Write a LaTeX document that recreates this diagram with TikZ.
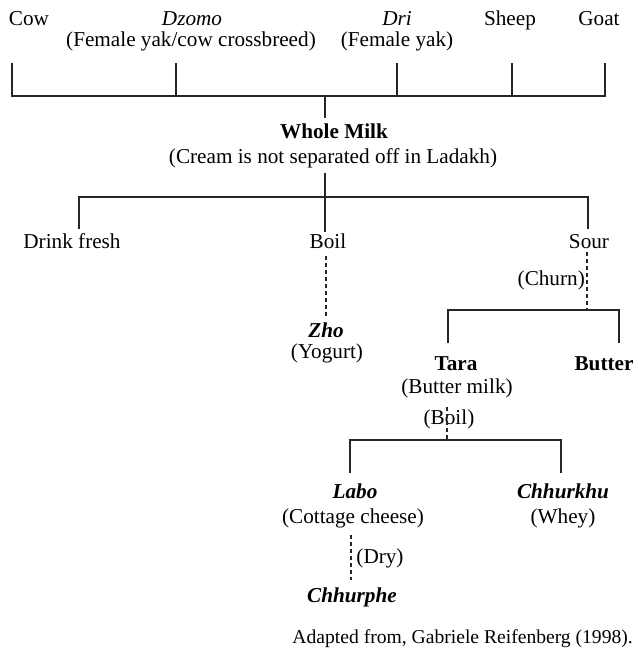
\documentclass[tikz,border=0pt]{standalone}
\usepackage{fontspec}
\setmainfont{Liberation Serif}
\begin{document}
\begin{tikzpicture}[x=1pt,y=-1pt,
  lbl/.style={inner sep=0pt, anchor=base, font=\fontsize{21.2}{25}\selectfont},
  src/.style={inner sep=0pt, anchor=base east, font=\fontsize{19.6}{23}\selectfont},
  solidline/.style={line width=1.1pt, black!85},
  dashline/.style={line width=1.1pt, black!85, dash pattern=on 4pt off 3pt}]
\useasboundingbox (0,0) rectangle (637,652);

% top row
\node[lbl] (cow) at (29,26) {Cow};
\node[lbl] (dzomo) at (192,26) {\textit{Dzomo}};
\node[lbl] (dzomod) at (191,46.5) {(Female yak/cow crossbreed)};
\node[lbl] (dri) at (397,26) {\textit{Dri}};
\node[lbl] (drid) at (397,46.5) {(Female yak)};
\node[lbl] (sheep) at (510,26) {Sheep};
\node[lbl] (goat) at (599,26) {Goat};

\coordinate (cowL) at (12,63);
\coordinate (dzL) at (176,63);
\coordinate (driL) at (397,63);
\coordinate (shL) at (512,63);
\coordinate (goL) at (605,63);
\coordinate (bar1) at (325,96);
\coordinate (wmT) at (325,118);

\draw[solidline] (cowL) |- (bar1) -| (goL);
\draw[solidline] (dzL) -- (dzL |- bar1);
\draw[solidline] (driL) -- (driL |- bar1);
\draw[solidline] (shL) -- (shL |- bar1);
\draw[solidline] (bar1) -- (wmT);

% whole milk
\node[lbl] (wm) at (334,139) {\textbf{Whole Milk}};
\node[lbl] (cream) at (333,164) {(Cream is not separated off in Ladakh)};

\coordinate (creamB) at (325,173);
\coordinate (bar2) at (325,197);
\coordinate (dfT) at (79,229);
\coordinate (soT) at (588,229);
\coordinate (boT) at (325,232);

\draw[solidline] (dfT) |- (bar2) -| (soT);
\draw[solidline] (creamB) -- (boT);

\node[lbl] (drink) at (72,248) {Drink fresh};
\node[lbl] (boil) at (328,248) {Boil};
\node[lbl] (sour) at (589,248) {Sour};

% yogurt branch
\coordinate (boB) at (326,256);
\coordinate (zhT) at (326,317);
\draw[dashline] (boB) -- (zhT);
\node[lbl] (zho) at (326,337) {\textbf{\textit{Zho}}};
\node[lbl] (yog) at (327,358) {(Yogurt)};

% churn branch
\node[lbl, anchor=base east] (churn) at (585,285) {(Churn)};
\coordinate (soB) at (587,252);
\coordinate (bar3) at (587,310);
\draw[dashline] (soB) -- (bar3);
\coordinate (taT) at (448,343);
\coordinate (buT) at (619,343);
\draw[solidline] (taT) |- (bar3) -| (buT);

\node[lbl] (tara) at (456,370) {\textbf{Tara}};
\node[lbl] (tarad) at (457,393) {(Butter milk)};
\node[lbl] (butter) at (604,370) {\textbf{Butter}};

% boil buttermilk
\node[lbl] (boil2) at (449,424) {(Boil)};
\coordinate (bmB) at (447,407);
\coordinate (bar4) at (447,440);
\draw[dashline] (bmB) -- (bar4);
\coordinate (laT) at (350,473);
\coordinate (chT) at (561,473);
\draw[solidline] (laT) |- (bar4) -| (chT);

\node[lbl] (labo) at (355,498) {\textbf{\textit{Labo}}};
\node[lbl] (labod) at (353,523) {(Cottage cheese)};
\node[lbl] (chk) at (563,498) {\textbf{\textit{Chhurkhu}}};
\node[lbl] (chkd) at (563,523) {(Whey)};

% dry
\coordinate (lbB) at (351,535);
\coordinate (chpT) at (351,580);
\draw[dashline] (lbB) -- (chpT);
\node[lbl] (dry) at (380,563) {(Dry)};
\node[lbl] (chp) at (352,602) {\textbf{\textit{Chhurphe}}};

% source
\node[src] (source) at (633,643) {Adapted from, Gabriele Reifenberg (1998).};
\end{tikzpicture}
\end{document}
